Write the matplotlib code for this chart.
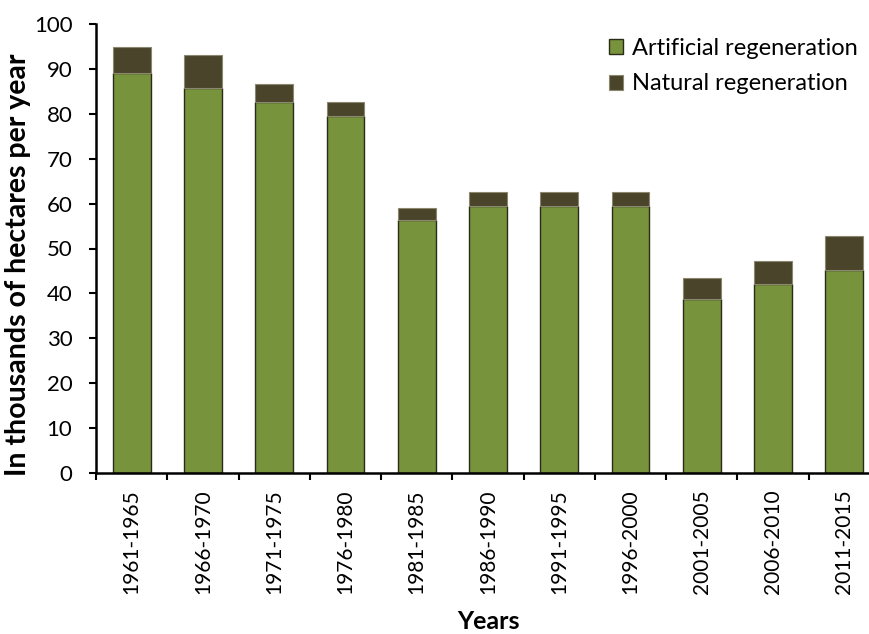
import matplotlib
matplotlib.use("Agg")
import matplotlib.pyplot as plt
import numpy as np

periods = ["1961-1965", "1966-1970", "1971-1975", "1976-1980", "1981-1985",
           "1986-1990", "1991-1995", "1996-2000", "2001-2005", "2006-2010",
           "2011-2015"]
artificial = [89.0, 85.8, 82.7, 79.6, 56.3, 59.5, 59.5, 59.5, 38.7, 42.1, 45.2]
natural = [5.8, 7.3, 3.9, 3.1, 2.7, 3.0, 3.0, 3.0, 4.7, 5.1, 7.6]

plt.rcParams["font.family"] = ["Lato", "DejaVu Sans"]

fig = plt.figure(figsize=(8.69, 6.34), dpi=100)
ax = fig.add_axes([96 / 869, 1 - 473 / 634, 784 / 869, 449 / 634])

x = np.arange(len(periods))
w = 0.53
ax.bar(x, artificial, w, color="#77933C", edgecolor="#2b2b1a", linewidth=1.0,
       label="Artificial regeneration")
ax.bar(x, natural, w, bottom=artificial, color="#4A452A", edgecolor="#8a8670",
       linewidth=0.8, label="Natural regeneration")

ax.set_xlim(-0.5, len(periods) - 0.5)
ax.set_ylim(0, 100)
ax.set_yticks(np.arange(0, 101, 10))
ax.set_xticks(x)
ax.set_xticklabels(periods, rotation=90, fontsize=15)
ax.set_xticks(np.arange(-0.5, len(periods), 1), minor=True)
ax.tick_params(axis="x", which="major", length=0, pad=12)
ax.tick_params(axis="x", which="minor", length=5, width=1.5, direction="out")
ax.tick_params(axis="y", length=5, width=1.5, direction="out", labelsize=16,
               pad=12)

for s in ("top", "right"):
    ax.spines[s].set_visible(False)
for s in ("left", "bottom"):
    ax.spines[s].set_linewidth(1.8)

ax.set_ylabel("In thousands of hectares per year", fontsize=20.5,
              fontweight="bold")
ax.yaxis.set_label_coords(-0.083, 0.463)
ax.set_xlabel("Years", fontsize=18, fontweight="bold", labelpad=11)

leg = ax.legend(loc="upper right", bbox_to_anchor=(0.99, 1.0), frameon=False,
                fontsize=17, handlelength=0.6, handleheight=0.6,
                handletextpad=0.4, labelspacing=0.6, borderaxespad=0.2)

fig.savefig("out.png", dpi=100)
